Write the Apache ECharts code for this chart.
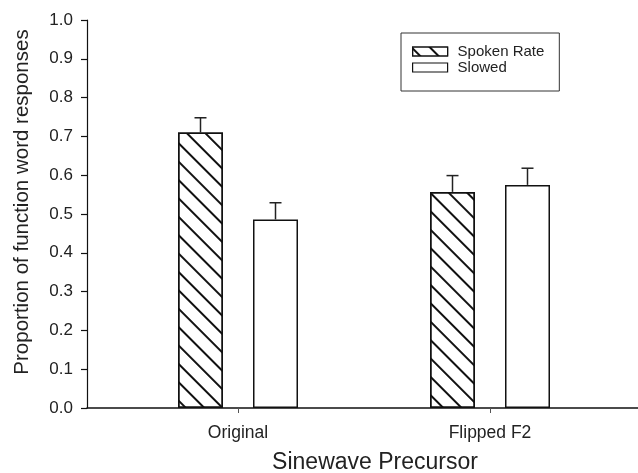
<!DOCTYPE html>
<html>
<head>
<meta charset="utf-8">
<script src="https://cdn.jsdelivr.net/npm/echarts@6/dist/echarts.min.js"></script>
<style>
html,body{margin:0;padding:0;background:#fff;}
#chart{width:638px;height:473px;}
</style>
</head>
<body>
<div id="chart"></div>
<script>
var categories = ['Original', 'Flipped F2'];
var seriesNames = ['Spoken Rate', 'Slowed'];
var spokenValues = [0.710, 0.557];
var slowedValues = [0.486, 0.575];
var spokenErr = [0.038, 0.042];
var slowedErr = [0.043, 0.043];
var yTicks = [0, 0.1, 0.2, 0.3, 0.4, 0.5, 0.6, 0.7, 0.8, 0.9, 1.0];

var FONT = "'Liberation Sans', Arial, sans-serif";
var TXT = '#222';
var BAR_W = 45, BAR_GAP = 30;

var hatch = {
  symbol: 'rect',
  symbolSize: 1,
  color: '#111',
  dashArrayX: [1, 0],
  dashArrayY: [1.3, 10.3],
  rotation: Math.PI / 4
};

function errData(vals, errs) {
  return vals.map(function (v, i) { return [i, v, errs[i]]; });
}

function errSeries(name, vals, errs, sign) {
  return {
    type: 'custom',
    name: name + ' err',
    xAxisIndex: 0, yAxisIndex: 0,
    z: 5,
    silent: true,
    data: errData(vals, errs),
    renderItem: function (params, api) {
      var i = api.value(0), v = api.value(1), e = api.value(2);
      var p0 = api.coord([i, v]);
      var p1 = api.coord([i, v + e]);
      var off = sign * (BAR_W / 2 + BAR_GAP / 2);
      var x = p0[0] + off;
      var cap = 6;
      var style = { stroke: '#222', lineWidth: 1.5, fill: null };
      return {
        type: 'group',
        children: [
          { type: 'line', shape: { x1: x, y1: p0[1], x2: x, y2: p1[1] }, style: style },
          { type: 'line', shape: { x1: x - cap, y1: p1[1], x2: x + cap, y2: p1[1] }, style: style }
        ]
      };
    }
  };
}

var chart = echarts.init(document.getElementById('chart'), null, { renderer: 'canvas' });
chart.setOption({
  backgroundColor: '#fff',
  animation: false,
  textStyle: { fontFamily: FONT },
  grid: [
    { left: 112, right: 22, top: 20, bottom: 65, containLabel: false, outerBoundsMode: 'none' },
    { left: 87, right: 0, top: 20, bottom: 65, containLabel: false, outerBoundsMode: 'none' }
  ],
  legend: {
    orient: 'vertical',
    left: 401, top: 33,
    padding: [11, 15, 16, 11],
    borderColor: '#333', borderWidth: 1,
    itemWidth: 35, itemHeight: 9, itemGap: 1,
    selectedMode: false,
    textStyle: { fontSize: 15, color: TXT, fontFamily: FONT, padding: [0, 0, 0, 5] },
    data: [
      { name: seriesNames[0], icon: 'rect', itemStyle: { color: '#fff', borderColor: '#111', borderWidth: 1.2, decal: hatch } },
      { name: seriesNames[1], icon: 'rect', itemStyle: { color: '#fff', borderColor: '#111', borderWidth: 1.2 } }
    ]
  },
  xAxis: [
    {
      type: 'category', gridIndex: 0, data: categories,
      axisLine: { show: false },
      axisTick: { show: true, alignWithLabel: true, length: 5, lineStyle: { color: '#555', width: 1 } },
      axisLabel: { fontSize: 17.5, color: TXT, margin: 16, fontFamily: FONT },
      name: 'Sinewave Precursor', nameLocation: 'middle', nameGap: 43,
      nameTextStyle: { fontSize: 23, color: TXT, fontFamily: FONT, padding: [0, 0, 0, 22] }
    },
    {
      type: 'value', gridIndex: 1, min: 0, max: 1,
      axisLine: { show: true, onZero: false, lineStyle: { color: '#111', width: 1.5 } },
      axisTick: { show: false }, axisLabel: { show: false }, splitLine: { show: false }
    }
  ],
  yAxis: [
    {
      type: 'value', gridIndex: 0, min: 0, max: 1, interval: 0.1, offset: 25,
      axisLine: { show: true, lineStyle: { color: '#111', width: 1.2 } },
      axisTick: { show: true, length: 6, lineStyle: { color: '#111', width: 1.2 } },
      splitLine: { show: false },
      axisLabel: { fontSize: 17, color: TXT, margin: 14, fontFamily: FONT,
        formatter: function (v) { return v.toFixed(1); } },
      name: 'Proportion of function word responses', nameLocation: 'middle', nameGap: 54,
      nameTextStyle: { fontSize: 20.5, color: TXT, fontFamily: FONT, padding: [0, 0, 0, 24] }
    },
    { type: 'value', gridIndex: 1, min: 0, max: 1, show: false }
  ],
  series: [
    {
      type: 'bar', name: seriesNames[0], xAxisIndex: 0, yAxisIndex: 0,
      data: spokenValues, barWidth: BAR_W, barGap: (BAR_GAP / BAR_W * 100) + '%',
      itemStyle: { color: '#fff', borderColor: '#111', borderWidth: 1.5, decal: hatch }
    },
    {
      type: 'bar', name: seriesNames[1], xAxisIndex: 0, yAxisIndex: 0,
      data: slowedValues, barWidth: BAR_W, barGap: (BAR_GAP / BAR_W * 100) + '%',
      itemStyle: { color: '#fff', borderColor: '#111', borderWidth: 1.5 }
    },
    errSeries(seriesNames[0], spokenValues, spokenErr, -1),
    errSeries(seriesNames[1], slowedValues, slowedErr, 1)
  ]
});
</script>
</body>
</html>
